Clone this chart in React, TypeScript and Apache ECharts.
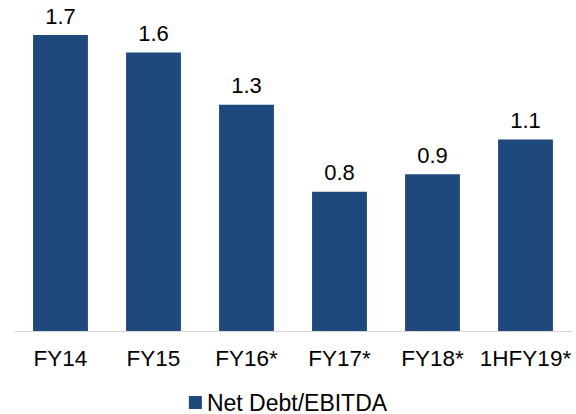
import React, { useEffect, useRef } from "react";
import * as echarts from "echarts";

const categories = ["FY14", "FY15", "FY16*", "FY17*", "FY18*", "1HFY19*"];
const values = [1.7, 1.6, 1.3, 0.8, 0.9, 1.1];
const seriesName = "Net Debt/EBITDA";

export default function App() {
  const ref = useRef<HTMLDivElement>(null);
  useEffect(() => {
    const chart = echarts.init(ref.current!, null, { renderer: "svg" });
    const font = "Liberation Sans, Arial, sans-serif";
    chart.setOption({
      animation: false,
      grid: { left: 14, right: 4, top: 35, bottom: 83, containLabel: false },
      legend: {
        top: 391,
        padding: 0,
        left: "center",
        itemWidth: 13,
        itemHeight: 13,
        icon: "rect",
        itemGap: 5,
        textStyle: { fontFamily: font, fontSize: 23, color: "#000" },
        data: [seriesName],
      },
      xAxis: {
        type: "category",
        data: categories,
        axisLine: { lineStyle: { color: "#d9d9d9", width: 1 } },
        axisTick: { show: false },
        axisLabel: { interval: 0, fontFamily: font, fontSize: 22.5, color: "#000", margin: 16 },
      },
      yAxis: {
        type: "value",
        min: 0,
        max: 1.7,
        show: false,
        splitLine: { show: false },
      },
      series: [
        {
          name: seriesName,
          type: "bar",
          data: values,
          barWidth: "59%",
          itemStyle: { color: "#1F497D" },
          label: {
            show: true,
            position: "top",
            distance: 8,
            fontFamily: font,
            fontSize: 22,
            color: "#000",
            formatter: (p: any) => p.value.toFixed(1),
          },
        },
      ],
    });
    return () => chart.dispose();
  }, []);
  return (
    <div
      ref={ref}
      style={{ position: "absolute", left: 0, top: 0, width: 576, height: 414 }}
    />
  );
}
